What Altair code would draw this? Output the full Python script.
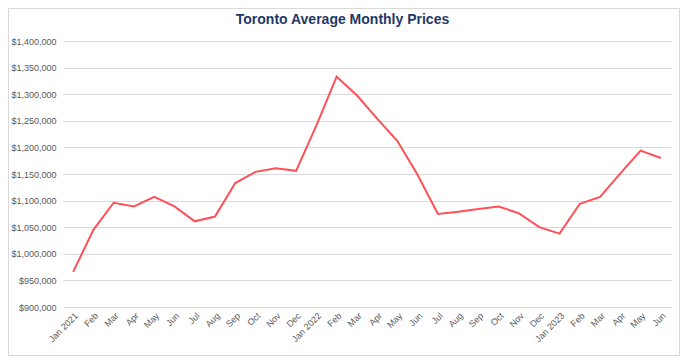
import altair as alt
import pandas as pd

months = ["Jan 2021", "Feb", "Mar", "Apr", "May", "Jun", "Jul", "Aug", "Sep", "Oct", "Nov", "Dec",
          "Jan 2022", "Feb ", "Mar ", "Apr ", "May ", "Jun ", "Jul ", "Aug ", "Sep ", "Oct ", "Nov ", "Dec ",
          "Jan 2023", "Feb  ", "Mar  ", "Apr  ", "May  ", "Jun  "]
prices = [966000, 1045000, 1096000, 1089000, 1107000, 1089000, 1061000, 1070000, 1133000, 1154000,
          1161000, 1156000, 1241000, 1333000, 1298000, 1254000, 1212000, 1148000, 1075000, 1079000,
          1084000, 1089000, 1076000, 1050000, 1038000, 1094000, 1107000, 1151000, 1194000, 1180000]
y_ticks = [900000, 950000, 1000000, 1050000, 1100000, 1150000, 1200000, 1250000, 1300000, 1350000, 1400000]
title_text = "Toronto Average Monthly Prices"

df = pd.DataFrame({"month": months, "price": prices})

FONT = "Liberation Sans"
LABEL = "#595959"

line = alt.Chart(df).mark_line(color="#FF5058", strokeWidth=2).encode(
    x=alt.X("month:O", sort=months,
            scale=alt.Scale(type="point", padding=0.5),
            axis=alt.Axis(title=None, labelAngle=-45, labelAlign="right", labelBaseline="top",
                          labelFontSize=9, labelColor=LABEL, labelFont=FONT, ticks=False,
                          domain=False, labelPadding=4, grid=False, labelOverlap=False)),
    y=alt.Y("price:Q", scale=alt.Scale(domain=[900000, 1400000], nice=False, zero=False),
            axis=alt.Axis(title=None, values=y_ticks, format="$,.0f", labelFontSize=9,
                          labelColor=LABEL, labelFont=FONT, ticks=False, domain=False,
                          labelPadding=7, gridColor="#d9d9d9", gridWidth=1)),
)

border = alt.Chart(alt.Data(values=[{}])).mark_rect(fill="transparent", stroke="#d9d9d9", strokeWidth=1).encode(
    x=alt.value(-54.5), x2=alt.value(616.5), y=alt.value(-32.5), y2=alt.value(314.5)
)

title = alt.Chart(alt.Data(values=[{"t": title_text}])).mark_text(
    font=FONT, fontSize=14, fontWeight="bold", color="#1F3864", align="center", baseline="alphabetic"
).encode(text="t:N", x=alt.value(279.5), y=alt.value(-17.5))

chart = alt.layer(border, line, title).properties(
    width=608, height=266,
    autosize=alt.AutoSizeParams(type="none"),
    padding={"left": 55, "top": 33, "right": 9, "bottom": 49},
).configure_view(stroke=None)

chart.save("out.html", embed_options={"renderer": "svg", "actions": False})
